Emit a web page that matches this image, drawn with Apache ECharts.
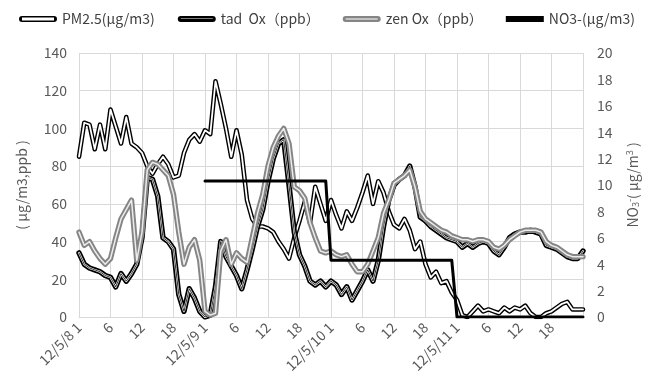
<!DOCTYPE html>
<html><head><meta charset="utf-8">
<script src="https://cdn.jsdelivr.net/npm/echarts@6/dist/echarts.min.js"></script>
<style>html,body{margin:0;padding:0;background:#fff}#c{width:656px;height:391px}</style>
</head><body><div id="c"></div>
<script>
var dayLabels = ['12/5/8 1','12/5/9 1','12/5/10 1','12/5/11 1','12/5/12 1'];
var hourLabels = ['','1','2','3','4','5','6','7','8','9','10','11','12','13','14','15','16','17','18','19','20','21','22','23'];
var leftTicks = [0,20,40,60,80,100,120,140];
var rightTicks = [0,2,4,6,8,10,12,14,16,18,20];

var pm25 = [85,103,102,89,102,89,110,101,92,106,92,90,87,80,76,81,85,81,74,75,
  87,94,97,93,99,97,125,113,100,85,99,86,62,52,48,48,47,45,40,36,
  31,42,51,61,50,69,60,51,62,54,47,56,51,58,66,75,60,72,66,56,
  49,47,52,46,36,40,28,21,24,18,19,13,9,1,0,3,6,3,4,3,
  2,5,3,5,4,6,2,0,0,2,3,5,7,8,4,4,4];
var tadOx = [34,28,26,25,24,22,21,16,23,19,23,28,42,74,73,64,42,40,36,12,
  3,15,10,3,0,1,16,40,32,27,22,15,25,36,48,57,72,84,92,94,
  70,45,33,27,19,17,19,16,19,17,12,16,9,14,19,25,19,30,48,62,
  70,73,75,80,69,53,51,48,46,44,42,41,40,37,39,37,39,40,39,35,
  33,37,42,44,45,45,46,45,44,38,37,36,34,32,31,31,35];
var zenOx = [45,38,40,35,31,28,31,42,52,57,62,30,45,78,82,81,78,75,65,45,
  28,37,41,30,3,1,2,35,41,28,34,31,29,42,55,65,80,90,96,100,
  92,69,67,63,50,42,35,34,35,33,32,33,28,24,24,28,35,42,55,62,
  71,73,75,78,69,56,52,50,48,46,45,43,42,41,41,40,41,41,40,37,
  36,38,41,43,45,46,46,46,45,40,38,37,35,33,32,32,32];
var no3 = [null,null,null,null,null,null,null,null,null,null,null,null,null,null,null,null,null,null,null,null,
  null,null,null,null,10.3,10.3,10.3,10.3,10.3,10.3,10.3,10.3,10.3,10.3,10.3,10.3,10.3,10.3,10.3,10.3,
  10.3,10.3,10.3,10.3,10.3,10.3,10.3,10.3,4.3,4.3,4.3,4.3,4.3,4.3,4.3,4.3,4.3,4.3,4.3,4.3,
  4.3,4.3,4.3,4.3,4.3,4.3,4.3,4.3,4.3,4.3,4.3,4.3,0,0,0,0,0,0,0,0,
  0,0,0,0,0,0,0,0,0,0,0,0,0,0,0,0,0];

var categories = [];
for (var d = 0; d < 4; d++) {
  for (var h = 0; h < 24; h++) categories.push(h === 0 ? dayLabels[d] : hourLabels[h]);
}
categories.push(dayLabels[4]);

var FONT = '"Noto Sans CJK JP", "Noto Sans", sans-serif';
var TXT = '#595959';

function layer(name, data, color, width, yi, z) {
  return {name: name, type: 'line', data: data, yAxisIndex: yi || 0, showSymbol: false, symbol: 'none',
    connectNulls: false, z: z, silent: true,
    lineStyle: {color: color, width: width, cap: 'round', join: 'round'}, itemStyle: {color: color}};
}

var outer = 'M3,0 L35,0 A3,3 0 0 1 35,6 L3,6 A3,3 0 0 1 3,0 Z ';
function hole(a, b) { return 'M3,' + a + ' L3,' + b + ' L35,' + b + ' L35,' + a + ' Z'; }

var chart = echarts.init(document.getElementById('c'));
chart.setOption({
  animation: false,
  backgroundColor: '#fff',
  textStyle: {fontFamily: FONT},
  legend: {
    top: 7, left: 14, right: 0, itemWidth: 38, itemHeight: 6, itemGap: 23, symbolKeepAspect: false,
    textStyle: {color: '#404040', fontSize: 14, fontFamily: FONT},
    data: [
      {name: 'PM2.5(μg/m3)', icon: 'path://' + outer + hole(1.6, 4.4), itemStyle: {color: '#000'}},
      {name: 'tad  Ox（ppb）', icon: 'path://' + outer + hole(2.5, 3.1), itemStyle: {color: '#000'}},
      {name: 'zen Ox（ppb）', icon: 'path://' + outer + hole(2.4, 3.4), itemStyle: {color: '#858585'}},
      {name: 'NO3-(μg/m3)', icon: 'path://M0,1.5 L38,1.5 L38,4.5 L0,4.5 Z', itemStyle: {color: '#000'}}
    ]
  },
  grid: {left: 79, right: 73, top: 53, bottom: 74},
  xAxis: {
    type: 'category', data: categories, boundaryGap: false,
    axisLine: {lineStyle: {color: '#d9d9d9'}},
    axisTick: {show: false},
    splitLine: {show: true, interval: 5, lineStyle: {color: '#d9d9d9'}},
    axisLabel: {rotate: 45, color: TXT, fontSize: 14, margin: 8, fontFamily: FONT,
      interval: function (i) { return i % 6 === 0 && i < 96; }}
  },
  yAxis: [
    {type: 'value', min: leftTicks[0], max: leftTicks[leftTicks.length - 1], interval: 20,
      name: '( μg/m3,ppb )', nameLocation: 'middle', nameRotate: 90, nameGap: 50,
      nameTextStyle: {color: TXT, fontSize: 14, fontFamily: FONT},
      axisLine: {show: false}, axisTick: {show: false},
      axisLabel: {color: TXT, fontSize: 14, margin: 12, fontFamily: FONT},
      splitLine: {lineStyle: {color: '#d9d9d9'}}},
    {type: 'value', min: rightTicks[0], max: rightTicks[rightTicks.length - 1], interval: 2, position: 'right',
      name: 'NO{sub|3}{sup|-}( μg/m{sup|3} )', nameLocation: 'middle', nameRotate: 90, nameGap: 42,
      nameTextStyle: {color: TXT, fontSize: 14, fontFamily: FONT,
        rich: {sub: {fontSize: 9, color: TXT, verticalAlign: 'bottom', padding: [6, 0, 0, 0]},
               sup: {fontSize: 9, color: TXT, verticalAlign: 'top', padding: [0, 0, 6, 0]}}},
      axisLine: {show: false}, axisTick: {show: false},
      axisLabel: {color: TXT, fontSize: 14, margin: 14, fontFamily: FONT},
      splitLine: {show: false}}
  ],
  series: [
    layer('PM2.5(μg/m3)', pm25, '#000', 4.6, 0, 2),
    layer('pm-in', pm25, '#fff', 1.8, 0, 2),
    layer('tad  Ox（ppb）', tadOx, '#000', 5.4, 0, 3),
    layer('tad-mid', tadOx, '#fff', 2.0, 0, 3),
    layer('tad-in', tadOx, '#000', 0.8, 0, 3),
    layer('zen Ox（ppb）', zenOx, '#858585', 5.4, 0, 4),
    layer('zen-in', zenOx, '#ececec', 1.5, 0, 4),
    layer('NO3-(μg/m3)', no3, '#000', 3, 1, 5)
  ]
});
</script></body></html>
